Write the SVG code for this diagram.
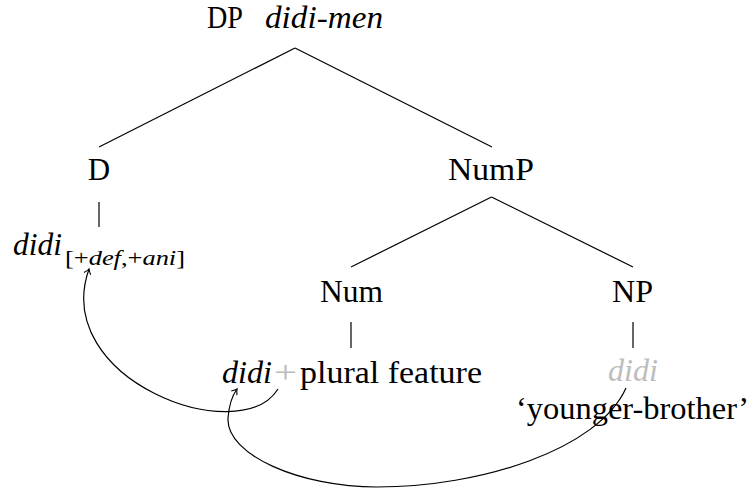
<svg xmlns="http://www.w3.org/2000/svg" width="752" height="488" viewBox="0 0 752 488" font-family="'Liberation Serif', 'DejaVu Serif', 'Noto Serif', 'Times New Roman', Times, serif">
<style>
text{font-family:'Liberation Serif','DejaVu Serif','Noto Serif','Times New Roman',Times,serif;font-size:31px;fill:#000}
.it{font-style:italic}
.sub{font-size:21px}
.gray{fill:#bdbdbd}
.edge{stroke:#000;stroke-width:1.2;fill:none}
.mv{stroke:#000;stroke-width:1.2;fill:none;marker-end:url(#arr)}
</style>
<defs>
<marker id="arr" markerWidth="12" markerHeight="12" viewBox="-6 -6 12 12" refX="0" refY="0" orient="auto" markerUnits="userSpaceOnUse">
<path d="M-5,-3.5 Q-1.5,-0.6 0,0 Q-1.5,0.6 -5,3.5" stroke="#000" stroke-width="1.1" fill="none"/>
</marker>
</defs>
<rect width="752" height="488" fill="#fff"/>
<g id="connectors">
<line class="edge" x1="295" y1="48" x2="99" y2="147"/>
<line class="edge" x1="295" y1="48" x2="492" y2="147"/>
<line class="edge" x1="99" y1="202" x2="99" y2="227"/>
<line class="edge" x1="491.5" y1="197" x2="351" y2="267"/>
<line class="edge" x1="491.5" y1="197" x2="633" y2="267"/>
<line class="edge" x1="351" y1="322" x2="351" y2="348"/>
<line class="edge" x1="633" y1="322" x2="633" y2="348"/>
<path class="mv" d="M278,389 C240,450 50,380 89,269"/>
<path class="mv" d="M626,388 C598,450 480,487 377,487 C300,487 226,455 228,418 C229,405 232,396 237,389"/>
</g>
<g id="node-DP">
<text x="207" y="28" textLength="36" lengthAdjust="spacingAndGlyphs">DP</text>
<text class="it" x="265" y="28" textLength="118" lengthAdjust="spacingAndGlyphs">didi-men</text>
</g>
<g id="node-D">
<text x="99" y="180" text-anchor="middle">D</text>
</g>
<g id="node-D-word">
<text class="it" x="13" y="255" textLength="49" lengthAdjust="spacingAndGlyphs">didi</text>
<text class="sub" x="65" y="265" textLength="120" lengthAdjust="spacingAndGlyphs">[+<tspan class="it">def</tspan>,+<tspan class="it">ani</tspan>]</text>
</g>
<g id="node-NumP">
<text x="448" y="180" textLength="86" lengthAdjust="spacingAndGlyphs">NumP</text>
</g>
<g id="node-Num">
<text x="320" y="302" textLength="63" lengthAdjust="spacingAndGlyphs">Num</text>
</g>
<g id="node-Num-word">
<text class="it" x="222" y="383" textLength="50" lengthAdjust="spacingAndGlyphs">didi</text>
<text class="gray" x="274" y="383" textLength="23" lengthAdjust="spacingAndGlyphs">+</text>
<text x="300" y="383" textLength="182" lengthAdjust="spacingAndGlyphs">plural feature</text>
</g>
<g id="node-NP">
<text x="612" y="302" textLength="41" lengthAdjust="spacingAndGlyphs">NP</text>
</g>
<g id="node-NP-word">
<text class="it gray" x="608" y="381" textLength="50" lengthAdjust="spacingAndGlyphs">didi</text>
<text x="516" y="419" textLength="233" lengthAdjust="spacingAndGlyphs">‘younger-brother’</text>
</g>
</svg>
